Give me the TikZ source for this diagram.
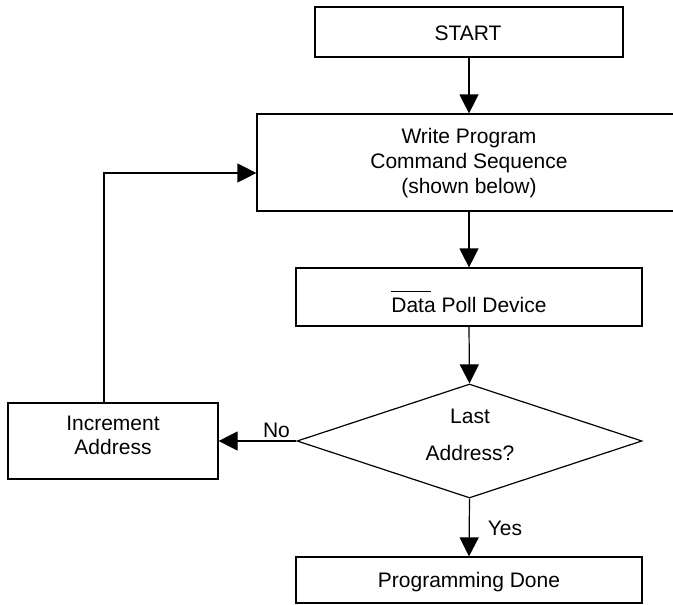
\documentclass[tikz,border=0pt]{standalone}
\usepackage{fontspec}
\setmainfont{Liberation Sans}
\usetikzlibrary{arrows.meta,shapes.geometric,calc}
\begin{document}
\begin{tikzpicture}[x=1pt,y=-1pt,
  every node/.style={font=\fontsize{21}{25}\selectfont},
  box/.style={draw,line width=1.2pt,rectangle,inner sep=0pt},
  dia/.style={draw,line width=1.2pt,diamond,inner sep=0pt,aspect=3},
  txt/.style={align=center,inner sep=0pt},
  arr/.style={line width=1.2pt,-{Triangle[length=19pt,width=19pt]}}]
\useasboundingbox (0,0) rectangle (673,605);
\node[box,minimum width=308pt,minimum height=50pt] (start) at (469,32) {};
\node[txt] (startT) at (468,33) {START};
\node[box,minimum width=424pt,minimum height=97pt] (write) at (469,162.5) {};
\node[txt] (writeT) at (469,163) {Write Program\\Command Sequence\\(shown below)};
\node[box,minimum width=346pt,minimum height=58pt] (poll) at (469,297) {};
\node[txt] (pollT) at (469,302) {\rlap{\rule[21pt]{40pt}{1.1pt}}Data Poll Device};
\node[dia,minimum width=345pt,minimum height=114pt] (dec) at (469.5,441) {};
\node[txt,font=\fontsize{21}{37}\selectfont] (decT) at (470,434.5) {Last\\Address?};
\node[box,minimum width=210pt,minimum height=76pt] (inc) at (113,441) {};
\node[txt,font=\fontsize{21}{24}\selectfont] (incT) at (113,435) {Increment\\Address};
\node[box,minimum width=346pt,minimum height=46pt] (done) at (469,580) {};
\node[txt] (doneT) at (469,582) {Programming Done};
\draw[arr] (start.south) -- (write.north);
\draw[arr] (write.south) -- (poll.north);
\draw[arr] (poll.south) -- (dec.north);
\draw[arr] (dec.west) -- node[txt,above,yshift=3pt,xshift=19pt] (no) {No} (inc.east);
\draw[arr] (dec.south) -- node[txt,right,xshift=18pt,yshift=-1pt] (yes) {Yes} (done.north);
\draw[arr] ([xshift=-9pt]inc.north) |- ([yshift=-10.5pt]write.west);
\end{tikzpicture}
\end{document}
